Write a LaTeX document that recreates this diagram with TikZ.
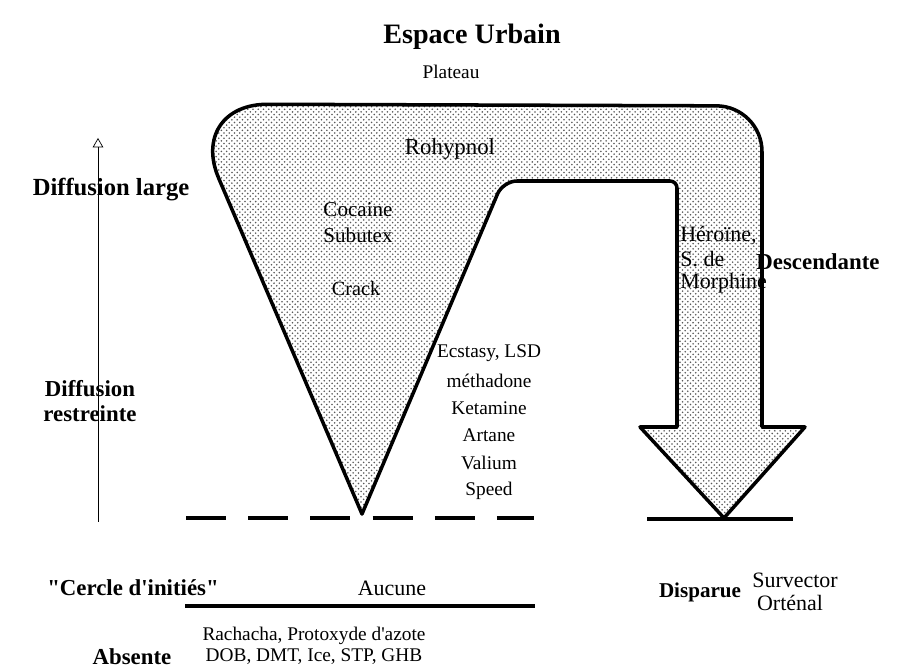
\documentclass[tikz,border=0pt]{standalone}
\usepackage{fontspec}
\setmainfont{Liberation Serif}[Ligatures=TeXOff]
\usetikzlibrary{arrows}
\usetikzlibrary{positioning,patterns}

\begin{document}
\begin{tikzpicture}[x=0.02cm,y=-0.02cm,node distance=0.55cm,
    txt/.style={font=\fontsize{11}{13}\selectfont,inner sep=0pt},
    big txt/.style={font=\fontsize{12.5}{14}\selectfont,inner sep=0pt},
    bold txt/.style={font=\fontsize{13}{15}\selectfont\bfseries,inner sep=0pt},
    outline/.style={line width=2pt,line join=round},
    stipple/.style={pattern=crosshatch dots,pattern color=black!65}]

      \useasboundingbox (0,0) rectangle (910,668);

      % the urban space figure
      \draw[outline,stipple] (362,514) [rounded corners=46] -- (187,104)
        [rounded corners=26] -- (762,106) [rounded corners=0] -- (762,427)
        -- (805,427) -- (724,518) -- (640,427) -- (677,427)
        [rounded corners=4] -- (677,181) [rounded corners=8] -- (503,181)
        [rounded corners=0] -- cycle;

      % levels
      \coordinate (low) at (98,522);
      \coordinate (high) at (98,138);
      \draw[thin,-open triangle 60] (low) -- (high);
      \coordinate (dash a) at (186,518);
      \coordinate (dash b) at (534,518);
      \draw[line width=2.3pt,dash pattern=on 22.8pt off 12.6pt] (dash a) -- (dash b);
      \coordinate (base a) at (647,519);
      \coordinate (base b) at (793,519);
      \draw[line width=2.2pt] (base a) -- (base b);
      \coordinate (cut a) at (185,606);
      \coordinate (cut b) at (535,606);
      \draw[line width=1.8pt] (cut a) -- (cut b);

      \node[font=\fontsize{16}{18}\selectfont\bfseries] (title) at (472,37) {Espace Urbain};
      \node[txt] (plateau) at (451,72) {Plateau};
      \node[font=\fontsize{13}{15}\selectfont,inner sep=0pt] (rohyp) at (450,149) {Rohypnol};

      \node[bold txt,font=\fontsize{14}{16}\selectfont\bfseries] (large) at (111,190) {Diffusion large};
      \node[bold txt,align=center] (restr) at (90,401) {Diffusion\\[-1pt]restreinte};

      \node[font=\fontsize{12}{14}\selectfont,inner sep=0pt] (coca) at (358,210) {Cocaine};
      \node[font=\fontsize{12}{14}\selectfont,inner sep=0pt] (subu) [below of=coca,node distance=0.5cm] {Subutex};
      \node[font=\fontsize{11.5}{13}\selectfont,inner sep=0pt] (crack) at (356,289) {Crack};

      \node[txt] (ecst) at (489,353) {Ecstasy, LSD};
      \node[txt] (metha) [below of=ecst] {méthadone};
      \node[txt] (keta) [below of=metha] {Ketamine};
      \node[txt] (artane) [below of=keta] {Artane};
      \node[txt] (valium) [below of=artane] {Valium};
      \node[txt] (speed) [below of=valium] {Speed};

      \node[big txt,anchor=west] (hero) at (680,236) {Héroïne,};
      \node[big txt,anchor=west] (sde) [below=3pt of hero.south west,anchor=north west] {S. de};
      \node[big txt,anchor=west] (morph) [below=3pt of sde.south west,anchor=north west] {Morphine};
      \node[bold txt] (desc) at (818,262) {Descendante};

      \node[bold txt] (cercle) at (133,588) {"Cercle d'initiés"};
      \node[big txt] (aucune) at (392,588) {Aucune};
      \node[bold txt,font=\fontsize{12}{14}\selectfont\bfseries] (disp) at (700,592) {Disparue};
      \node[big txt] (surv) at (795,580) {Survector};
      \node[big txt] (orten) at (790,603) {Orténal};

      \node[txt] (racha) at (314,636) {Rachacha, Protoxyde d'azote};
      \node[txt] (dob) at (314,657) {DOB, DMT, Ice, STP, GHB};
      \node[bold txt] (absente) at (132,657) {Absente};
    \end{tikzpicture}
\end{document}
